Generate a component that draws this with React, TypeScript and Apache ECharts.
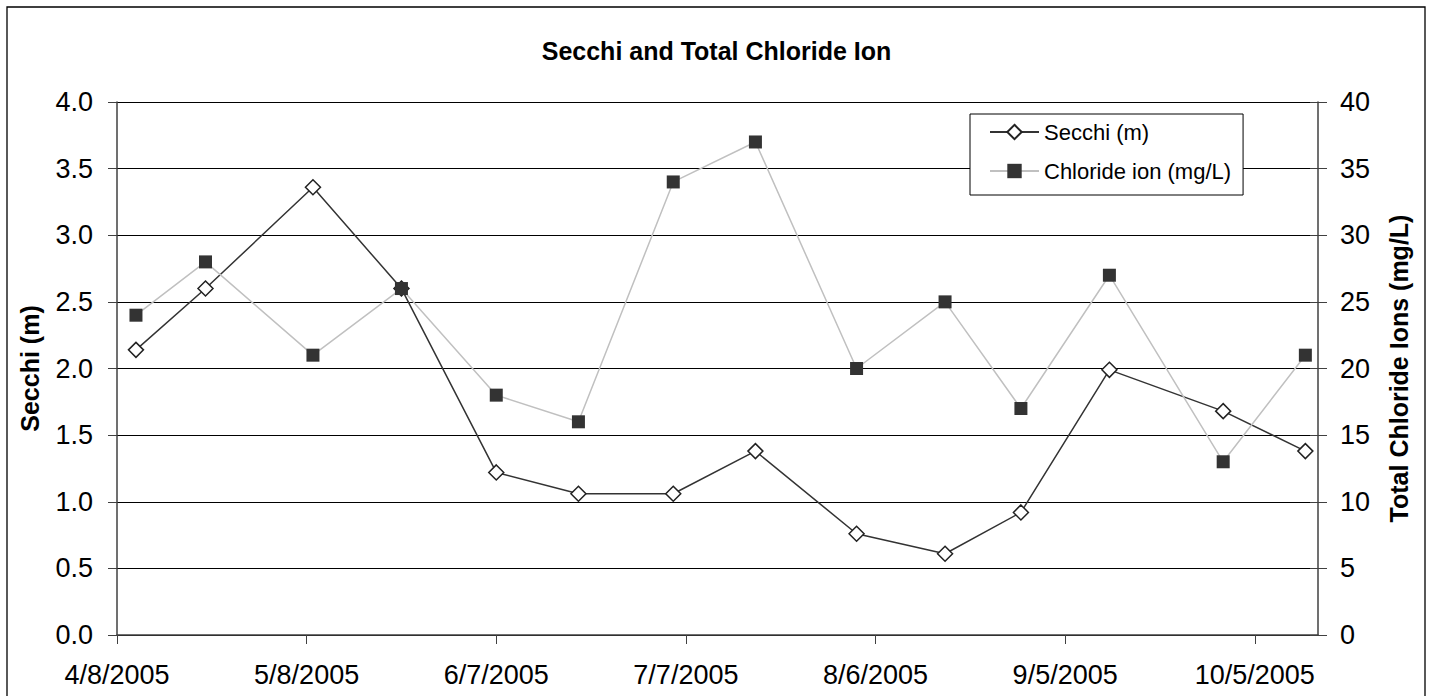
import React, { useEffect, useRef } from "react";
import * as echarts from "echarts";

const sampleDates = [
  "2005-04-11", "2005-04-22", "2005-05-09", "2005-05-23", "2005-06-07",
  "2005-06-20", "2005-07-05", "2005-07-18", "2005-08-03", "2005-08-17",
  "2005-08-29", "2005-09-12", "2005-09-30", "2005-10-13",
];
const secchi = [2.14, 2.6, 3.36, 2.6, 1.22, 1.06, 1.06, 1.38, 0.76, 0.61, 0.92, 1.99, 1.68, 1.38];
const chloride = [24, 28, 21, 26, 18, 16, 34, 37, 20, 25, 17, 27, 13, 21];
const tickDates = ["2005-04-08", "2005-05-08", "2005-06-07", "2005-07-07", "2005-08-06", "2005-09-05", "2005-10-05"];
const axisStart = "2005-04-08";
const axisEnd = "2005-10-15";

const ts = (s: string) => {
  const [y, m, d] = s.split("-").map(Number);
  return Date.UTC(y, m - 1, d);
};
const fmtDate = (v: number) => {
  const d = new Date(v);
  return `${d.getUTCMonth() + 1}/${d.getUTCDate()}/${d.getUTCFullYear()}`;
};

const FONT = "'Liberation Sans', Arial, sans-serif";

export default function App() {
  const ref = useRef<HTMLDivElement>(null);
  useEffect(() => {
    if (!ref.current) return;
    const chart = echarts.init(ref.current, undefined, { renderer: "svg" });
    const tickVals = tickDates.map(ts);
    chart.setOption({
      animation: false,
      backgroundColor: "#fff",
      textStyle: { fontFamily: FONT },
      title: {
        text: "Secchi and Total Chloride Ion",
        left: "center",
        top: 33,
        textStyle: { fontFamily: FONT, fontSize: 25, fontWeight: "bold", color: "#000" },
      },
      graphic: [
        {
          type: "rect",
          shape: { x: 7, y: 7, width: 1418, height: 700 },
          style: { fill: "none", stroke: "#000", lineWidth: 1.3 },
          silent: true,
        },
      ],
      legend: {
        orient: "vertical",
        left: 970,
        top: 114,
        padding: [7, 12, 13, 19],
        itemWidth: 49,
        itemHeight: 18,
        itemGap: 17,
        backgroundColor: "#fff",
        borderColor: "#000",
        borderWidth: 1,
        borderRadius: 0,
        textStyle: { fontFamily: FONT, fontSize: 22, color: "#000" },
        data: ["Secchi (m)", "Chloride ion (mg/L)"],
      },
      grid: { left: 117, right: 115, top: 102, bottom: 61, containLabel: false },
      xAxis: {
        type: "value",
        min: ts(axisStart),
        max: ts(axisEnd),
        axisLine: { show: true, lineStyle: { color: "#404040", width: 1.5 } },
        axisTick: { show: true, inside: false, length: 9, customValues: tickVals, lineStyle: { color: "#404040", width: 1 } },
        axisLabel: {
          customValues: tickVals,
          formatter: (v: number) => fmtDate(v),
          fontFamily: FONT,
          fontSize: 27,
          color: "#000",
          margin: 26,
        },
        splitLine: { show: false },
      },
      yAxis: [
        {
          type: "value",
          min: 0,
          max: 4,
          interval: 0.5,
          name: "Secchi (m)",
          nameLocation: "middle",
          nameGap: 75,
          nameTextStyle: { fontFamily: FONT, fontSize: 25, fontWeight: "bold", color: "#000" },
          axisLine: { show: true, lineStyle: { color: "#404040", width: 1.5 } },
          axisTick: { show: true, length: 9, lineStyle: { color: "#404040", width: 1 } },
          axisLabel: {
            formatter: (v: number) => v.toFixed(1),
            fontFamily: FONT,
            fontSize: 27,
            color: "#000",
            margin: 24,
          },
          splitLine: { show: true, lineStyle: { color: "#000", width: 1 } },
        },
        {
          type: "value",
          min: 0,
          max: 40,
          interval: 5,
          position: "right",
          name: "Total Chloride Ions (mg/L)",
          nameLocation: "middle",
          nameGap: 68,
          nameRotate: 90,
          nameTextStyle: { fontFamily: FONT, fontSize: 25, fontWeight: "bold", color: "#000" },
          axisLine: { show: true, lineStyle: { color: "#404040", width: 1.5 } },
          axisTick: { show: true, length: 9, lineStyle: { color: "#404040", width: 1 } },
          axisLabel: { fontFamily: FONT, fontSize: 27, color: "#000", margin: 22 },
          splitLine: { show: false },
        },
        {
          type: "value",
          min: 0,
          max: 40,
          interval: 5,
          position: "right",
          axisLine: { show: false },
          axisTick: { show: true, inside: true, length: 8, lineStyle: { color: "#404040", width: 1 } },
          axisLabel: { show: false },
          splitLine: { show: false },
        },
      ],
      series: [
        {
          name: "Secchi (m)",
          type: "line",
          yAxisIndex: 0,
          data: sampleDates.map((d, i) => [ts(d), secchi[i]]),
          symbol: "diamond",
          symbolSize: 15,
          showAllSymbol: true,
          lineStyle: { color: "#333", width: 1.5 },
          itemStyle: { color: "#fff", borderColor: "#222", borderWidth: 1.5 },
          z: 3,
        },
        {
          name: "Chloride ion (mg/L)",
          type: "line",
          yAxisIndex: 1,
          data: sampleDates.map((d, i) => [ts(d), chloride[i]]),
          symbol: "rect",
          symbolSize: 13,
          showAllSymbol: true,
          lineStyle: { color: "#c0c0c0", width: 1.5 },
          itemStyle: { color: "#333", borderColor: "#333", borderWidth: 0 },
          z: 4,
        },
      ],
    });
    return () => chart.dispose();
  }, []);
  return (
    <div
      ref={ref}
      style={{ position: "fixed", left: 0, top: 0, width: 1433, height: 696, background: "#fff" }}
    />
  );
}
